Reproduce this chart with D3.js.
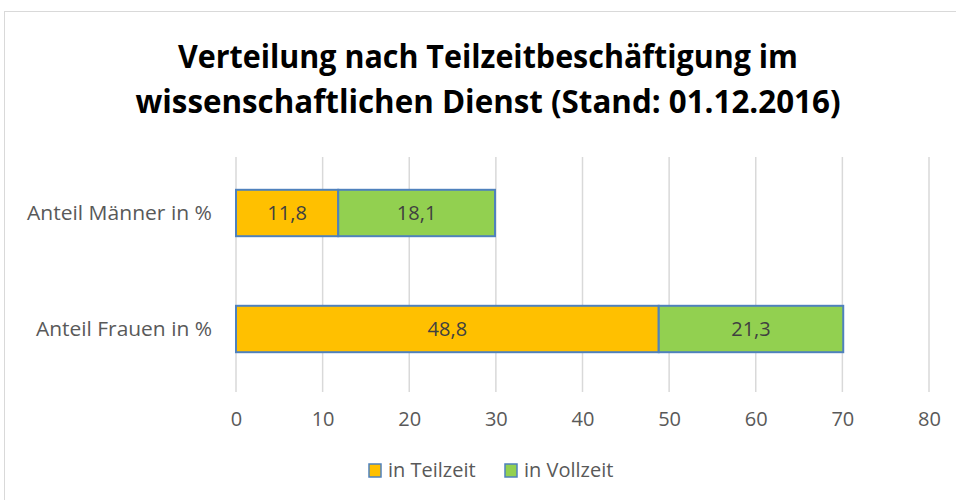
<!DOCTYPE html>
<html><head><meta charset="utf-8">
<script src="https://cdn.jsdelivr.net/npm/d3@7/dist/d3.min.js"></script>
<style>body{margin:0;background:#fff}svg{display:block}</style>
</head><body><svg id="c" width="956" height="500"></svg>
<script>
const categories = ["Anteil Männer in %", "Anteil Frauen in %"];
const seriesNames = ["in Teilzeit", "in Vollzeit"];
const teilzeit = [11.8, 48.8];
const vollzeit = [18.1, 21.3];
const xTicks = [0, 10, 20, 30, 40, 50, 60, 70, 80];
const titleLines = ["Verteilung nach Teilzeitbeschäftigung im", "wissenschaftlichen Dienst (Stand: 01.12.2016)"];
const colors = ["#FFC000", "#92D050"];

const svg = d3.select("#c");
const font = "'Open Sans', sans-serif";
svg.append("rect").attr("x",4.5).attr("y",11.5).attr("width",960).attr("height",500)
  .attr("fill","#fff").attr("stroke","#d9d9d9");

const x = d3.scaleLinear().domain([0,80]).range([236,929]);
const y = d3.scaleBand().domain(categories).range([155,387]).paddingInner(0.6).paddingOuter(0.3);

// title
const tw = [620, 705];
svg.selectAll("text.title").data(titleLines).join("text").attr("class","title")
  .attr("x",488).attr("y",(d,i)=>68+i*45).attr("text-anchor","middle")
  .attr("font-family",font).attr("font-weight","bold").attr("font-size",33)
  .attr("textLength",(d,i)=>tw[i]).attr("lengthAdjust","spacingAndGlyphs")
  .attr("fill","#000").text(d=>d);

// grid
svg.append("g").selectAll("line").data(xTicks).join("line")
  .attr("x1",d=>x(d)).attr("x2",d=>x(d)).attr("y1",157).attr("y2",392)
  .attr("stroke","#d9d9d9").attr("stroke-width",1.5);

// axis labels
const xAxis = d3.axisBottom(x).tickValues(xTicks).tickSize(0).tickPadding(0);
const gx = svg.append("g").attr("transform","translate(0,412)").call(xAxis);
gx.select(".domain").remove();
gx.selectAll("text").attr("font-family",font).attr("font-size",20).attr("fill","#595959");

// category labels
const labelW = [185, 176];
categories.forEach((c,i)=>{
  svg.append("text").attr("x",212).attr("y",y(c)+y.bandwidth()/2).attr("dy","0.36em")
    .attr("text-anchor","end").attr("font-family",font).attr("font-size",20).attr("fill","#595959")
    .attr("textLength",labelW[i]).attr("lengthAdjust","spacingAndGlyphs").text(c);
});

// stacked bars
const data = categories.map((c,i)=>({cat:c, teilzeit:teilzeit[i], vollzeit:vollzeit[i]}));
const stack = d3.stack().keys(["teilzeit","vollzeit"])(data);
stack.forEach((layer,li)=>{
  const g = svg.append("g");
  g.selectAll("rect").data(layer).join("rect")
    .attr("x",d=>x(d[0])).attr("width",d=>x(d[1])-x(d[0]))
    .attr("y",d=>y(d.data.cat)).attr("height",y.bandwidth())
    .attr("fill",colors[li]).attr("stroke","#4F81BD").attr("stroke-width",2);
  g.selectAll("text").data(layer).join("text")
    .attr("x",d=>(x(d[0])+x(d[1]))/2).attr("y",d=>y(d.data.cat)+y.bandwidth()/2).attr("dy","0.36em")
    .attr("text-anchor","middle").attr("font-family",font).attr("font-size",20).attr("fill","#404040")
    .text(d=>d3.format(".1f")(d[1]-d[0]).replace(".",","));
});

// legend
const leg = [{name:seriesNames[0],c:colors[0],x:369},{name:seriesNames[1],c:colors[1],x:505}];
leg.forEach(l=>{
  svg.append("rect").attr("x",l.x).attr("y",464).attr("width",12).attr("height",13)
    .attr("fill",l.c).attr("stroke","#4F81BD").attr("stroke-width",1.5);
  svg.append("text").attr("x",l.x+19).attr("y",470).attr("dy","0.36em")
    .attr("font-family",font).attr("font-size",20).attr("fill","#595959").text(l.name);
});
</script></body></html>
